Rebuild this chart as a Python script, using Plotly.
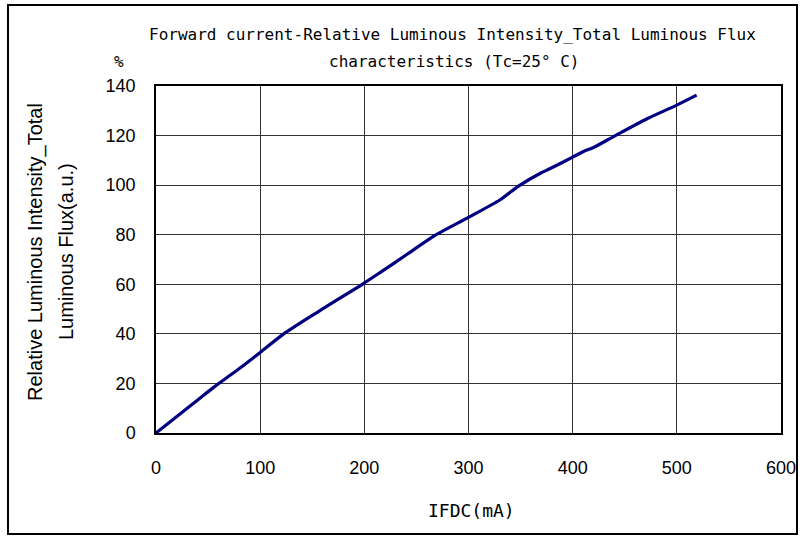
import plotly.graph_objects as go

current_mA = [0, 20, 40, 55, 80, 100, 122, 157, 198, 215, 240, 269, 300, 330, 348, 369, 378, 400, 410, 420, 441, 471, 500, 519]
rel_flux = [0, 6.7, 13.3, 18.3, 26.0, 32.5, 39.8, 49.3, 60, 64.7, 71.8, 80, 87, 94, 99.6, 104.8, 106.6, 111.3, 113.5, 115.2, 120, 126.7, 132.3, 136.3]

x_ticks = [0, 100, 200, 300, 400, 500, 600]
y_ticks = [0, 20, 40, 60, 80, 100, 120, 140]

title_lines = ["Forward current-Relative Luminous Intensity_Total Luminous Flux",
               "characteristics (Tc=25° C)"]
y_title_lines = ["Relative Luminous Intensity_Total", "Luminous Flux(a.u.)"]
x_title = "IFDC(mA)"
unit_label = "%"

MONO = "DejaVu Sans Mono"
AR = "Liberation Sans"

fig = go.Figure()
fig.add_trace(go.Scatter(x=current_mA, y=rel_flux, mode="lines",
                         line=dict(color="#000080", width=3.2, shape="spline", smoothing=0.8),
                         showlegend=False, hoverinfo="skip"))

L, R, T, B = 156, 21, 86, 103
W, H = 802, 536
pw, ph = W - L - R, H - T - B

def px_to_paper_x(px):
    return (px - L) / pw

def px_to_paper_y(py):
    return (H - B - py) / ph

fig.update_layout(
    width=W, height=H,
    margin=dict(l=L, r=R, t=T, b=B, autoexpand=False),
    paper_bgcolor="white", plot_bgcolor="white",
    xaxis=dict(range=[0, 600], tickvals=x_ticks, ticktext=[str(v) for v in x_ticks],
               showgrid=True, gridcolor="#333333", gridwidth=1,
               showline=True, linecolor="black", linewidth=1.5, mirror=True,
               zeroline=False, ticks="", ticklabelstandoff=18, automargin=False,
               tickfont=dict(family=AR, size=18, color="black"), fixedrange=True),
    yaxis=dict(range=[0, 140], tickvals=y_ticks, ticktext=[str(v) for v in y_ticks],
               showgrid=True, gridcolor="#333333", gridwidth=1,
               showline=True, linecolor="black", linewidth=1.5, mirror=True,
               zeroline=False, ticks="", ticklabelstandoff=15, automargin=False,
               tickfont=dict(family=AR, size=18, color="black"), fixedrange=True),
)

# outer border
fig.add_shape(type="rect", xref="paper", yref="paper",
              x0=px_to_paper_x(8), x1=px_to_paper_x(797),
              y0=px_to_paper_y(534), y1=px_to_paper_y(5),
              line=dict(color="black", width=2), fillcolor="rgba(0,0,0,0)", layer="below")

def add_text(text, xp, yp, family, size, angle=0):
    fig.add_annotation(text=text, x=px_to_paper_x(xp), y=px_to_paper_y(yp), xref="paper", yref="paper",
                       showarrow=False, textangle=angle, xanchor="center", yanchor="middle",
                       font=dict(family=family, size=size, color="black"))

add_text(title_lines[0], 452, 34, MONO, 16)
add_text(title_lines[1], 454, 61, MONO, 16)
add_text(unit_label, 119, 61, MONO, 16)
add_text(y_title_lines[0], 36, 252, AR, 20, -90)
add_text(y_title_lines[1], 66, 252, AR, 20, -90)
add_text(x_title, 471, 510, MONO, 18)

fig.write_html("out.html")
